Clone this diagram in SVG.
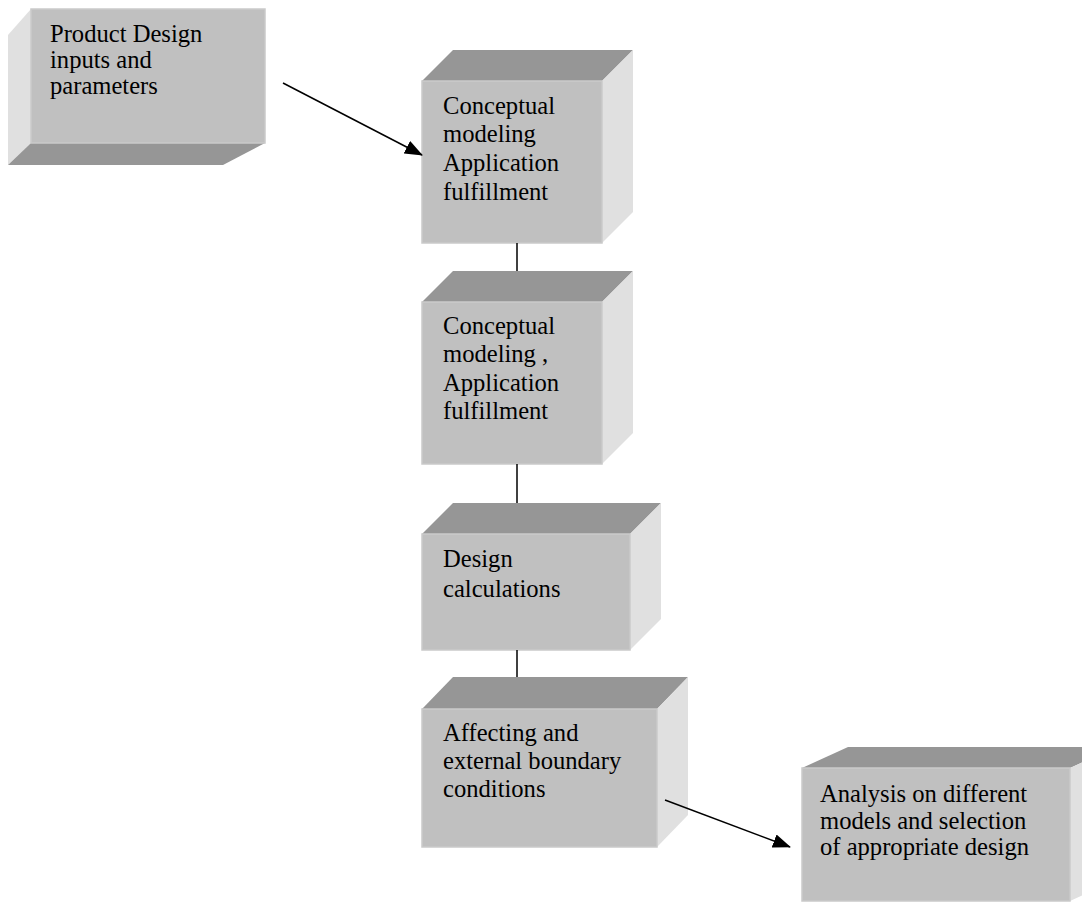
<svg xmlns="http://www.w3.org/2000/svg" width="1082" height="904" viewBox="0 0 1082 904">
<style>
.front{fill:#C0C0C0;stroke:#CACACA;stroke-width:1.5}
.dark{fill:#969696}
.light{fill:#E0E0E0}
.t{font-family:"Liberation Serif","Times New Roman",serif;font-size:24.6px;fill:#000}
.ln{stroke:#000;stroke-width:1.5;fill:none}
</style>
<defs>
<marker id="ah" markerWidth="18" markerHeight="14" refX="17" refY="7" orient="auto" markerUnits="userSpaceOnUse">
<path d="M0,0 L18,7 L0,14 Z" fill="#000"/>
</marker>
</defs>
<rect width="1082" height="904" fill="#fff"/>

<g id="node-product-design">
<polygon class="light" points="31,9 8,35 8,165 31,143"/>
<polygon class="dark" points="31,143 265,143 223,165 8,165"/>
<rect class="front" x="31" y="9" width="234" height="134"/>
<text class="t" x="50" y="42">Product Design</text>
<text class="t" x="50" y="68">inputs and</text>
<text class="t" x="50" y="94">parameters</text>
</g>

<g id="node-conceptual-1">
<polygon class="dark" points="422,81 453,50 633,50 602,81"/>
<polygon class="light" points="602,81 633,50 633,212 602,243"/>
<rect class="front" x="422" y="81" width="180" height="162"/>
<text class="t" x="443" y="114">Conceptual</text>
<text class="t" x="443" y="142">modeling</text>
<text class="t" x="443" y="171">Application</text>
<text class="t" x="443" y="200">fulfillment</text>
</g>

<g id="node-conceptual-2">
<polygon class="dark" points="422,302 453,271 633,271 602,302"/>
<polygon class="light" points="602,302 633,271 633,433 602,464"/>
<rect class="front" x="422" y="302" width="180" height="162"/>
<text class="t" x="443" y="334">Conceptual</text>
<text class="t" x="443" y="362">modeling ,</text>
<text class="t" x="443" y="391">Application</text>
<text class="t" x="443" y="419">fulfillment</text>
</g>

<g id="node-design-calc">
<polygon class="dark" points="422,534 453,503 661,503 630,534"/>
<polygon class="light" points="630,534 661,503 661,619 630,650"/>
<rect class="front" x="422" y="534" width="208" height="116"/>
<text class="t" x="443" y="567">Design</text>
<text class="t" x="443" y="597">calculations</text>
</g>

<g id="node-affecting">
<polygon class="dark" points="422,709 453,677 688,677 657,709"/>
<polygon class="light" points="657,709 688,677 688,815 657,847"/>
<rect class="front" x="422" y="709" width="235" height="138"/>
<text class="t" x="443" y="741">Affecting and</text>
<text class="t" x="443" y="769">external boundary</text>
<text class="t" x="443" y="797">conditions</text>
</g>

<g id="node-analysis">
<polygon class="dark" points="802,768 848,747 1116,747 1070,768"/>
<polygon class="light" points="1070,768 1116,747 1116,880 1070,901"/>
<rect class="front" x="802" y="768" width="268" height="133"/>
<text class="t" x="820" y="802">Analysis on different</text>
<text class="t" x="820" y="829">models and selection</text>
<text class="t" x="820" y="855">of appropriate design</text>
</g>

<g id="connectors">
<line class="ln" x1="283" y1="83" x2="422" y2="155" marker-end="url(#ah)"/>
<line class="ln" x1="517" y1="243" x2="517" y2="271"/>
<line class="ln" x1="517" y1="464" x2="517" y2="503"/>
<line class="ln" x1="517" y1="650" x2="517" y2="677"/>
<line class="ln" x1="665" y1="800" x2="790" y2="847" marker-end="url(#ah)"/>
</g>
</svg>
